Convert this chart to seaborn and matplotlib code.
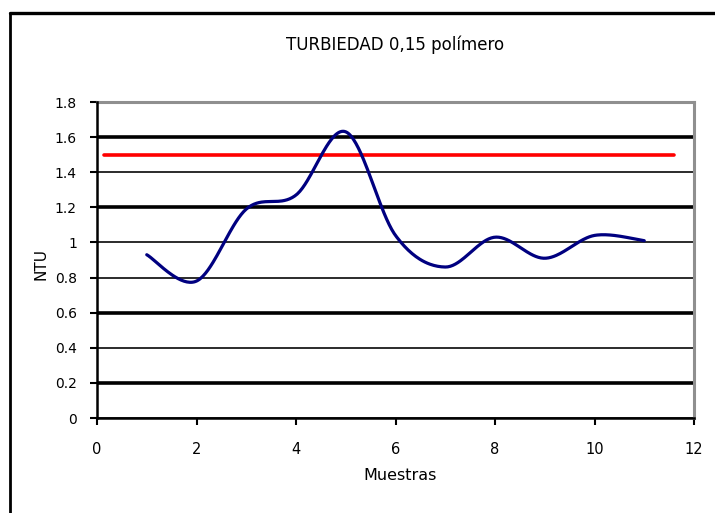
import numpy as np
import pandas as pd
import matplotlib
matplotlib.use("Agg")
import matplotlib.pyplot as plt
from matplotlib.lines import Line2D
import seaborn as sns

# Turbidity readings per sample
muestras = [1, 2, 3, 4, 5, 6, 7, 8, 9, 10, 11]
ntu = [0.93, 0.78, 1.19, 1.27, 1.63, 1.04, 0.86, 1.03, 0.91, 1.04, 1.01]

# Limit line
limite_x = [0.15, 11.6]
limite_y = [1.5, 1.5]

x_ticks = [0, 2, 4, 6, 8, 10, 12]
y_ticks = [0, 0.2, 0.4, 0.6, 0.8, 1.0, 1.2, 1.4, 1.6, 1.8]
y_tick_labels = ["0", "0.2", "0.4", "0.6", "0.8", "1", "1.2", "1.4", "1.6", "1.8"]


def smooth_line(xs, ys, n=40):
    # Excel-like smoothed line: cubic bezier through the points (Catmull-Rom tangents)
    pts = np.column_stack([xs, ys]).astype(float)
    padded = np.vstack([pts[0], pts, pts[-1]])
    t = np.linspace(0, 1, n)[:, None]
    out = []
    for i in range(len(pts) - 1):
        p0, p1, p2, p3 = padded[i], padded[i + 1], padded[i + 2], padded[i + 3]
        c1 = p1 + (p2 - p0) / 6
        c2 = p2 - (p3 - p1) / 6
        seg = (1 - t) ** 3 * p1 + 3 * (1 - t) ** 2 * t * c1 + 3 * (1 - t) * t ** 2 * c2 + t ** 3 * p2
        out.append(seg if i == 0 else seg[1:])
    out = np.vstack(out)
    return pd.DataFrame({"Muestras": out[:, 0], "NTU": out[:, 1]})


sns.set_style("white")
plt.rcParams["font.family"] = ["DejaVu Sans"]
plt.rcParams["text.color"] = "black"
plt.rcParams["axes.labelcolor"] = "black"

fig = plt.figure(figsize=(7.15, 5.13), dpi=100)
ax = fig.add_axes([97 / 715, 95 / 513, 597 / 715, 316 / 513])

curve = smooth_line(muestras, ntu)
sns.lineplot(data=curve, x="Muestras", y="NTU", sort=False, estimator=None,
             color="#000080", linewidth=2.3, ax=ax, zorder=4)
sns.lineplot(x=limite_x, y=limite_y, color="#ff0000", linewidth=2.6, ax=ax, zorder=3)

ax.set_xlim(0, 12)
ax.set_ylim(0, 1.8)
ax.set_xticks(x_ticks)
ax.set_yticks(y_ticks)
ax.set_yticklabels(y_tick_labels)
ax.tick_params(axis="both", direction="out", length=5, width=1.5, color="black",
               labelcolor="black")
ax.tick_params(axis="y", pad=9.5, labelsize=10)
ax.tick_params(axis="x", pad=12, labelsize=10.5)
ax.tick_params(left=True, bottom=True)

# horizontal gridlines, alternating weights as in the reference
ax.yaxis.grid(True, color="#1a1a1a", linewidth=1.3)
ax.set_axisbelow(True)
thick = {0.2, 0.6, 1.2, 1.6}
for val, gl in zip(y_ticks, ax.get_ygridlines()):
    if round(val, 1) in thick:
        gl.set_linewidth(2.6)
        gl.set_color("black")

for side in ["top", "right"]:
    ax.spines[side].set_color("#8f8f8f")
    ax.spines[side].set_linewidth(2.2)
for side in ["left", "bottom"]:
    ax.spines[side].set_color("black")
    ax.spines[side].set_linewidth(1.8)
    ax.spines[side].set_zorder(5)

ax.set_title("TURBIEDAD 0,15 polímero", fontsize=12, pad=37.5, color="black")
ax.set_xlabel("Muestras", fontsize=11.5)
ax.set_ylabel("NTU", fontsize=11)
ax.xaxis.set_label_coords(0.507, -0.158)
ax.yaxis.set_label_coords(-0.082, 0.487)

# chart area border (top and left edges visible)
x0 = 10 / 715
y0 = 1 - 12.5 / 513
fig.add_artist(Line2D([x0, x0], [0, y0], color="black", linewidth=2.0))
fig.add_artist(Line2D([x0, 1], [y0, y0], color="black", linewidth=2.4))

fig.savefig("out.png", dpi=100)
